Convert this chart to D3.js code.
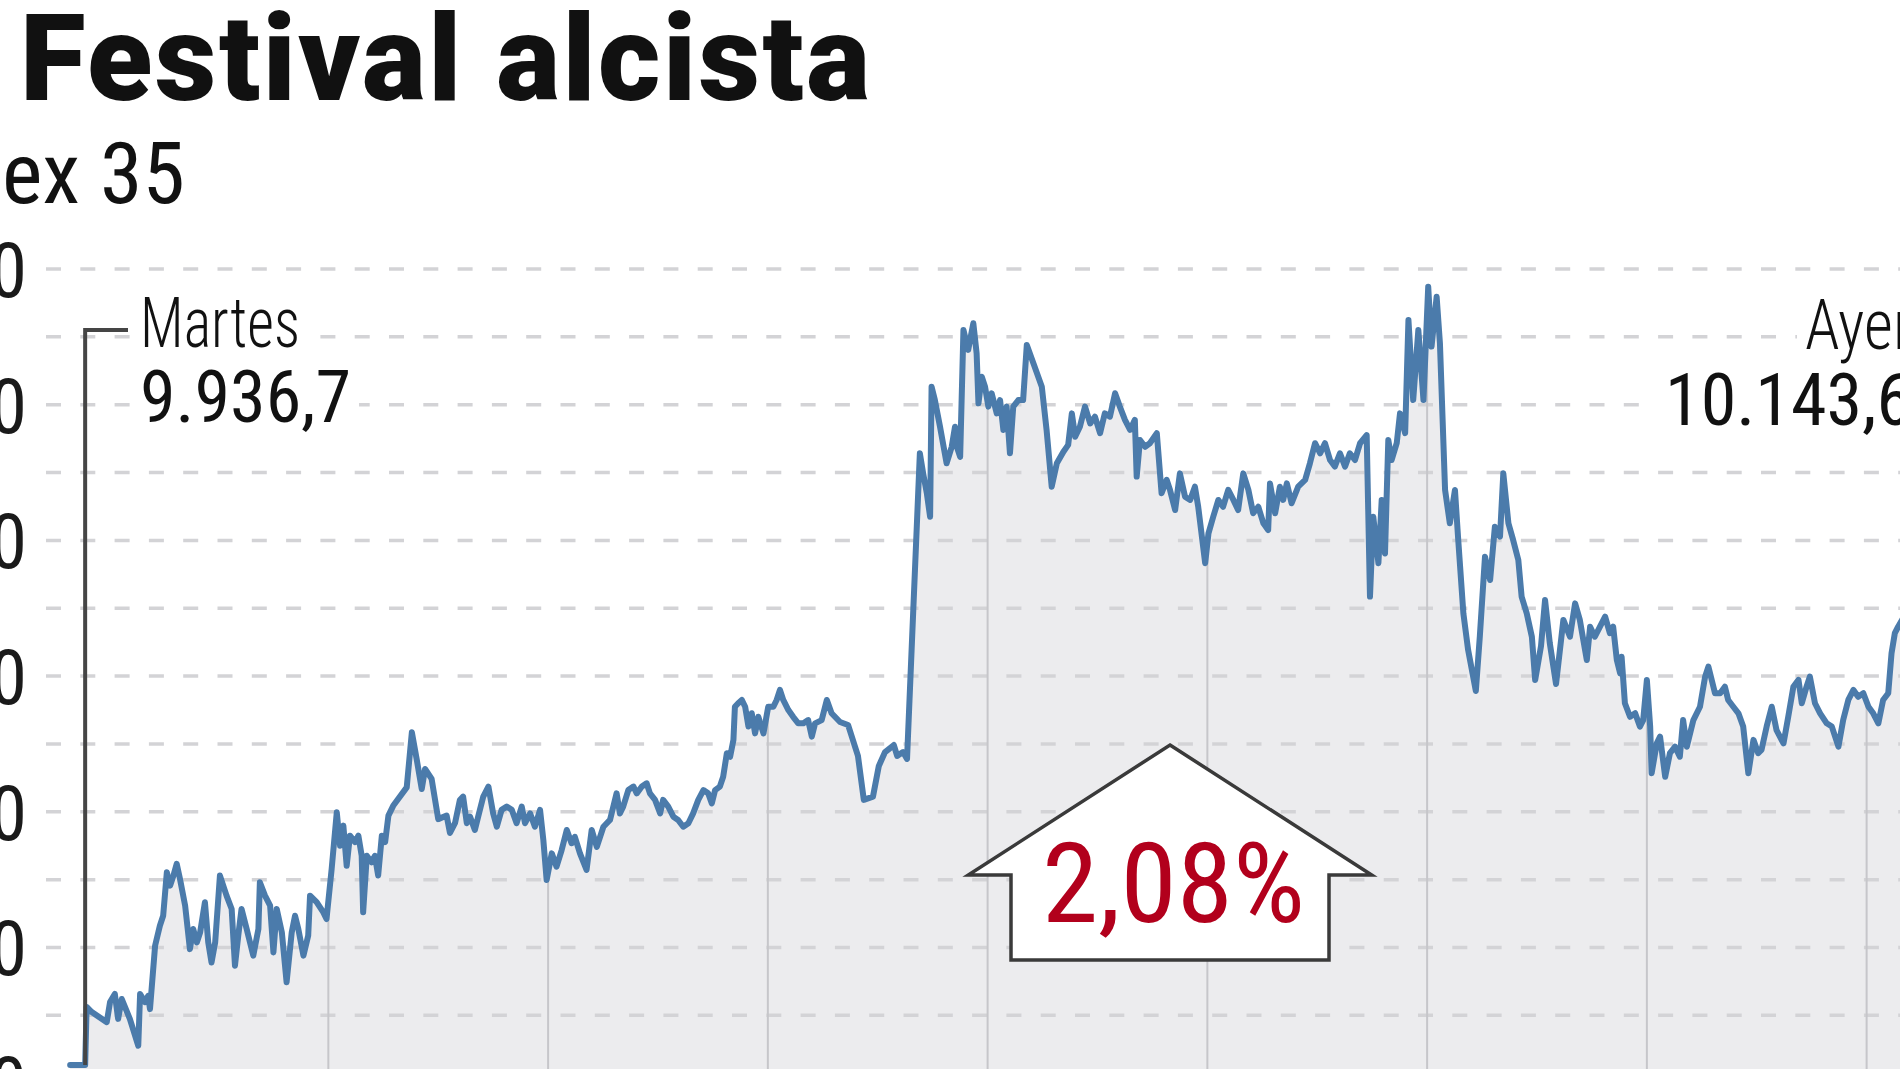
<!DOCTYPE html>
<html lang="es">
<head>
<meta charset="utf-8">
<title>Festival alcista</title>
<script src="https://cdn.jsdelivr.net/npm/d3@7"></script>
<style>
  body { margin: 0; background: #fff; overflow: hidden; }
  svg { display: block; }
  .narrow { font-family: "Liberation Sans Narrow", "Roboto Condensed", "DejaVu Sans Condensed", "Liberation Sans", sans-serif; font-stretch: condensed; }
</style>
</head>
<body>
<div id="chart"></div>
<script>
// Ibex 35, minutes after the 9:00 open (pre-open print is negative)
const minutes = [
  -10.5, -6.4, -6.0, -4.6, -0.5, 0.4, 1.7, 2.6, 3.6, 5.8,
  8.1, 8.6, 9.9, 10.8, 11.3, 12.7, 14.0, 14.9, 15.9, 16.8,
  17.7, 18.6, 19.5, 20.9, 22.2, 23.1, 24.1, 25.0, 26.3, 27.2,
  28.1, 29.1, 30.4, 32.2, 33.6, 34.5, 35.4, 36.3, 37.7, 39.5,
  40.9, 41.3, 42.7, 44.1, 45.0, 45.9, 47.3, 48.6, 50.0, 50.9,
  51.8, 53.2, 54.5, 55.0, 56.8, 58.6, 59.5, 60.9, 62.3, 63.2,
  64.1, 65.0, 65.9, 67.3, 68.2, 69.1, 69.5, 70.5, 71.8, 72.7,
  73.6, 74.6, 75.5, 76.4, 77.7, 81.4, 82.8, 84.1, 85.5, 86.4,
  88.2, 90.0, 92.3, 93.2, 94.6, 95.9, 96.8, 97.8, 98.7, 100.0,
  100.9, 102.3, 103.7, 105.0, 106.0, 107.3, 108.7, 110.1, 111.4, 112.8,
  113.7, 115.1, 116.4, 117.8, 118.7, 119.6, 121.0, 122.3, 123.7, 125.1,
  126.4, 127.3, 128.7, 130.5, 131.9, 133.3, 135.1, 136.9, 137.8, 138.7,
  139.6, 140.5, 141.9, 143.3, 144.2, 145.6, 146.9, 147.8, 149.2, 150.6,
  151.4, 152.8, 154.2, 155.5, 156.9, 158.3, 159.6, 161.0, 162.4, 163.7,
  164.7, 165.6, 166.9, 167.8, 168.8, 169.7, 170.6, 171.0, 171.9, 172.9,
  173.8, 174.7, 175.6, 176.5, 177.4, 178.8, 180.1, 181.5, 182.4, 183.3,
  184.2, 185.6, 186.9, 188.3, 189.7, 191.0, 192.0, 192.9, 194.7, 196.1,
  197.4, 199.7, 201.9, 204.6, 206.2, 208.7, 210.3, 212.0, 214.4, 215.3,
  216.9, 218.0, 221.5, 222.4, 223.4, 224.3, 224.7, 225.6, 227.0, 228.8,
  230.2, 231.1, 231.6, 232.5, 233.4, 234.7, 236.1, 237.0, 237.5, 238.4,
  239.3, 240.2, 241.1, 242.5, 243.4, 244.3, 245.2, 246.1, 247.0, 248.4,
  249.7, 250.7, 252.5, 254.8, 256.1, 257.5, 258.9, 260.7, 262.0, 263.0,
  263.9, 265.2, 266.6, 268.0, 269.3, 270.7, 272.0, 273.4, 274.8, 276.1,
  277.5, 278.9, 280.2, 280.7, 281.6, 283.0, 284.3, 286.2, 287.5, 288.9,
  289.8, 291.2, 292.5, 293.9, 295.3, 296.6, 297.5, 299.4, 300.3, 301.6,
  303.0, 304.3, 305.7, 307.1, 308.4, 309.8, 311.2, 312.5, 313.9, 315.3,
  316.6, 317.1, 318.5, 319.8, 320.7, 321.7, 323.0, 324.8, 326.7, 328.0,
  329.4, 330.8, 332.1, 333.5, 334.8, 336.2, 337.6, 338.9, 340.3, 341.7,
  343.5, 344.4, 345.3, 346.7, 347.6, 348.5, 349.4, 350.3, 351.7, 352.6,
  354.0, 354.9, 356.2, 357.6, 359.0, 360.3, 361.2, 362.6, 363.5, 364.9,
  366.2, 367.6, 368.5, 369.9, 371.2, 373.3, 374.4, 375.8, 377.2, 378.5,
  379.9, 380.8, 382.2, 383.5, 384.9, 385.8, 387.2, 388.6, 389.5, 391.1,
  392.2, 393.5, 395.2, 397.2, 399.0, 400.4, 401.7, 403.6, 404.5, 405.8,
  407.2, 408.6, 409.9, 410.8, 411.8, 412.7, 413.1, 414.0, 415.4, 416.8,
  418.1, 419.0, 420.0, 420.9, 421.3, 422.7, 423.6, 425.0, 426.3, 427.7,
  429.0, 429.9, 430.9, 432.7, 434.5, 435.9, 436.8, 437.7, 438.6, 440.0,
  441.3, 442.2, 443.6, 445.0, 446.3, 446.8, 447.7, 449.1, 450.4, 451.3,
  452.7, 454.1, 455.4, 457.3, 458.6, 460.0, 461.4, 462.3, 463.6, 464.5,
  465.9, 467.3, 469.1, 470.5, 472.3, 473.6, 475.0, 476.4, 477.7, 479.1,
  480.5, 481.8, 483.2, 484.5, 485.9, 486.8, 487.7, 488.6, 492.0, 500.0,
  510.0
];

const values = [
  9936.7, 9936.7, 9958.1, 9956.2, 9952.5, 9959.9, 9962.9, 9953.7, 9961.0, 9953.7,
  9943.8, 9962.9, 9959.9, 9962.2, 9957.3, 9980.7, 9988.0, 9991.7, 10007.7, 10002.8,
  10006.5, 10010.8, 10005.2, 9995.4, 9979.4, 9986.8, 9981.9, 9985.6, 9996.7, 9981.9,
  9974.5, 9981.9, 10006.5, 9999.1, 9994.2, 9973.3, 9984.4, 9994.2, 9986.8, 9977.0,
  9986.8, 10004.0, 9999.1, 9995.4, 9978.2, 9994.2, 9985.6, 9967.2, 9985.6, 9991.7,
  9986.8, 9977.0, 9984.4, 9999.1, 9996.7, 9993.0, 9990.5, 10008.9, 10029.8, 10017.5,
  10024.9, 10010.1, 10021.2, 10018.8, 10021.2, 10013.8, 9993.0, 10013.8, 10011.4, 10013.8,
  10006.5, 10021.2, 10018.8, 10028.6, 10032.2, 10039.0, 10059.3, 10049.5, 10038.4, 10045.8,
  10042.1, 10027.3, 10028.6, 10022.2, 10025.9, 10034.3, 10035.6, 10025.8, 10028.2, 10023.3,
  10028.2, 10035.6, 10039.3, 10029.4, 10024.5, 10030.7, 10031.9, 10030.7, 10025.8, 10031.9,
  10025.8, 10029.4, 10024.5, 10030.7, 10019.6, 10004.9, 10014.7, 10009.8, 10015.9, 10023.3,
  10018.4, 10020.8, 10014.7, 10008.6, 10023.3, 10017.1, 10024.5, 10027.0, 10031.9, 10036.8,
  10029.4, 10031.9, 10038.0, 10039.3, 10036.8, 10039.3, 10040.5, 10036.8, 10034.4, 10029.4,
  10034.4, 10031.9, 10028.2, 10027.0, 10024.5, 10025.8, 10029.4, 10034.4, 10038.0, 10036.8,
  10033.1, 10038.0, 10039.3, 10042.9, 10051.6, 10050.3, 10056.5, 10068.7, 10070.0, 10071.2,
  10068.7, 10061.4, 10066.3, 10058.9, 10065.0, 10058.9, 10068.7, 10068.7, 10071.2, 10074.9,
  10071.2, 10067.5, 10065.0, 10062.6, 10062.6, 10063.8, 10057.7, 10062.6, 10063.8, 10071.2,
  10066.3, 10063.1, 10062.0, 10050.6, 10034.4, 10035.6, 10046.9, 10052.0, 10054.6, 10050.6,
  10052.0, 10049.5, 10162.1, 10154.7, 10147.4, 10138.7, 10186.6, 10181.7, 10171.9, 10158.4,
  10164.5, 10171.9, 10164.5, 10160.8, 10207.5, 10200.2, 10210.0, 10198.9, 10180.5, 10190.3,
  10186.6, 10179.3, 10184.2, 10176.8, 10181.7, 10170.7, 10179.3, 10162.1, 10179.3, 10181.7,
  10181.7, 10202.0, 10195.3, 10186.6, 10170.7, 10149.8, 10158.4, 10162.7, 10165.2, 10176.8,
  10168.2, 10171.9, 10179.3, 10173.1, 10175.6, 10169.5, 10176.8, 10175.6, 10184.2, 10179.3,
  10174.4, 10170.7, 10174.4, 10153.5, 10167.0, 10164.5, 10165.8, 10169.5, 10147.4, 10152.3,
  10148.6, 10141.2, 10154.7, 10146.1, 10144.9, 10149.8, 10142.4, 10121.6, 10132.6, 10138.7,
  10144.9, 10142.4, 10148.6, 10144.9, 10141.2, 10154.7, 10148.6, 10140.0, 10142.4, 10136.3,
  10133.8, 10151.0, 10140.0, 10149.8, 10144.9, 10151.0, 10143.7, 10149.8, 10152.3, 10158.4,
  10165.8, 10162.1, 10165.8, 10159.6, 10157.2, 10162.1, 10157.2, 10162.1, 10159.6, 10165.8,
  10168.8, 10109.3, 10138.7, 10121.6, 10144.9, 10125.2, 10167.0, 10159.6, 10165.8, 10176.8,
  10169.5, 10211.2, 10181.7, 10207.5, 10181.7, 10223.5, 10201.4, 10219.8, 10202.6, 10148.6,
  10136.3, 10148.6, 10130.1, 10103.1, 10089.6, 10074.5, 10094.8, 10124.0, 10115.4, 10135.0,
  10131.4, 10154.7, 10136.3, 10130.1, 10122.8, 10109.3, 10103.1, 10094.5, 10078.6, 10091.1,
  10108.0, 10092.1, 10077.1, 10100.7, 10094.5, 10106.8, 10100.7, 10085.9, 10098.2, 10094.5,
  10098.2, 10101.9, 10095.8, 10098.2, 10085.9, 10081.0, 10087.1, 10070.0, 10065.0, 10066.3,
  10061.4, 10063.8, 10078.6, 10061.4, 10044.2, 10055.2, 10057.7, 10042.9, 10051.6, 10054.0,
  10050.3, 10063.8, 10054.0, 10063.8, 10068.7, 10079.8, 10083.5, 10078.6, 10073.7, 10073.7,
  10076.1, 10071.2, 10068.7, 10066.3, 10061.4, 10055.2, 10044.2, 10056.5, 10051.6, 10052.8,
  10061.4, 10068.7, 10060.1, 10055.2, 10065.0, 10076.1, 10078.6, 10070.0, 10076.1, 10079.8,
  10070.0, 10066.3, 10062.6, 10061.4, 10054.0, 10063.8, 10071.2, 10074.9, 10072.4, 10073.7,
  10068.7, 10066.3, 10062.6, 10071.2, 10073.7, 10088.4, 10095.8, 10098.2, 10106.0, 10125.0,
  10143.6
];

// grid every 25 points, label every 50
const gridValues = d3.range(9930, 10231, 25);
const labelValues = d3.range(9930, 10231, 50);
// hour lines 10:00 ... 17:00
const hourMinutes = [60, 120, 180, 240, 300, 360, 420, 480];

const prevClose = 9936.7;
const lastClose = 10143.6;
const changePct = 2.08;

const width = 1900, height = 1069;

const es = d3.formatLocale({ decimal: ",", thousands: ".", grouping: [3], currency: ["", " €"] });
const fmtInt = es.format(",.0f");
const fmt1 = es.format(",.1f");
const fmt2 = es.format(".2f");

const x = d3.scaleLinear().domain([0, 510]).range([108.6, 1976.5]);
const y = d3.scaleLinear().domain([9930, 10230]).range([1083.2, 269]);

const data = minutes.map((t, i) => ({ t: t, v: values[i] }));

const svg = d3.select("#chart").append("svg")
    .attr("width", width)
    .attr("height", height);

// area under the line
const area = d3.area()
    .x(d => x(d.t))
    .y0(height + 40)
    .y1(d => y(d.v));

const line = d3.line()
    .x(d => x(d.t))
    .y(d => y(d.v));

svg.append("defs").append("clipPath")
    .attr("id", "under")
    .append("path")
    .attr("d", area(data));

svg.append("path")
    .attr("d", area(data))
    .attr("fill", "#ececee");

// dashed horizontal grid
svg.append("g")
    .selectAll("line")
    .data(gridValues)
    .join("line")
    .attr("x1", 46)
    .attr("x2", width)
    .attr("y1", d => y(d))
    .attr("y2", d => y(d))
    .attr("stroke", "#d3d3d6")
    .attr("stroke-width", 3.5)
    .attr("stroke-dasharray", "15 19.3");

// hour lines, only visible below the curve
svg.append("g")
    .attr("clip-path", "url(#under)")
    .selectAll("line")
    .data(hourMinutes)
    .join("line")
    .attr("x1", d => x(d))
    .attr("x2", d => x(d))
    .attr("y1", y(10230))
    .attr("y2", height)
    .attr("stroke", "#c6c6ca")
    .attr("stroke-width", 2);

// y labels (mostly cut off by the left edge)
const yAxis = svg.append("g")
    .attr("transform", "translate(27,0)")
    .call(d3.axisLeft(y).tickValues(labelValues).tickFormat(fmtInt).tickSize(0).tickPadding(0));
yAxis.select(".domain").remove();
yAxis.selectAll("text")
    .attr("class", "narrow")
    .attr("font-size", 76)
    .attr("fill", "#1a1a1a")
    .attr("dy", "0.36em");

// the index line
svg.append("path")
    .attr("d", line(data))
    .attr("fill", "none")
    .attr("stroke", "#4b7bab")
    .attr("stroke-width", 6)
    .attr("stroke-linejoin", "round")
    .attr("stroke-linecap", "round");

// stretch a text horizontally so it spans len pixels (glyphs widen, no extra spacing)
function fitText(parent, opts) {
    const t = parent.append("text")
        .attr("class", "narrow")
        .attr("font-size", opts.size)
        .attr("font-weight", opts.weight || 400)
        .attr("fill", opts.fill || "#111")
        .attr("text-anchor", opts.anchor || "start")
        .text(opts.text);
    const w = t.node().getComputedTextLength();
    const k = opts.len / w;
    t.attr("transform", `translate(${opts.x},${opts.y}) scale(${k},1)`);
    return t;
}

function addLabel(lines, anchor, xPos) {
    const g = svg.append("g");
    const bg = g.append("g");
    lines.forEach(l => {
        fitText(g, Object.assign({ anchor: anchor, x: xPos }, l));
        const x0 = anchor === "end" ? xPos - l.len : xPos;
        bg.append("rect")
            .attr("x", x0 - 8).attr("y", l.y - l.size * 0.68)
            .attr("width", l.len + 16).attr("height", l.size * 0.78)
            .attr("fill", "#fff");
    });
}

// leader from Tuesday's close
const lx = x(minutes[1]);
svg.append("path")
    .attr("d", `M${lx},${y(prevClose)}V330H128`)
    .attr("fill", "none")
    .attr("stroke", "#454545")
    .attr("stroke-width", 4);

addLabel([
    { text: "Martes", y: 347, size: 70, weight: 300, len: 160 },
    { text: fmt1(prevClose), y: 422, size: 73, weight: 400, len: 211 }
], "start", 140);

addLabel([
    { text: "Ayer", y: 349, size: 70, weight: 300, len: 107 },
    { text: fmt1(lastClose), y: 425, size: 73, weight: 400, len: 247 }
], "end", 1912);

// change arrow
const arrowX = 1170, arrowTop = 745, wingY = 875, arrowBottom = 960, wing = 201.7, body = 159;
svg.append("path")
    .attr("d", `M${arrowX},${arrowTop}L${arrowX + wing},${wingY}H${arrowX + body}V${arrowBottom}H${arrowX - body}V${wingY}H${arrowX - wing}Z`)
    .attr("fill", "#fff")
    .attr("stroke", "#3a3a3a")
    .attr("stroke-width", 3.5)
    .attr("stroke-linejoin", "miter");

fitText(svg, {
    text: fmt2(changePct) + "%", x: 1173.5, y: 921.7, size: 112,
    anchor: "middle", fill: "#b2001c", len: 263
});

// title
svg.append("text")
    .attr("x", 20)
    .attr("y", 100)
    .attr("font-family", "Roboto, 'Liberation Sans', sans-serif")
    .attr("font-weight", 900)
    .attr("font-size", 120)
    .attr("fill", "#111")
    .attr("textLength", 850)
    .text("Festival alcista");

// subtitle, its start is cut by the left edge
const sub = svg.append("text")
    .attr("class", "narrow")
    .attr("y", 203)
    .attr("font-size", 86)
    .attr("fill", "#111")
    .text("Ibex 35");
const rest = sub.node().getSubStringLength(2, 5);
sub.attr("font-size", 86 * 183 / rest);
sub.attr("x", 2 - sub.node().getSubStringLength(0, 2));
</script>
</body>
</html>
